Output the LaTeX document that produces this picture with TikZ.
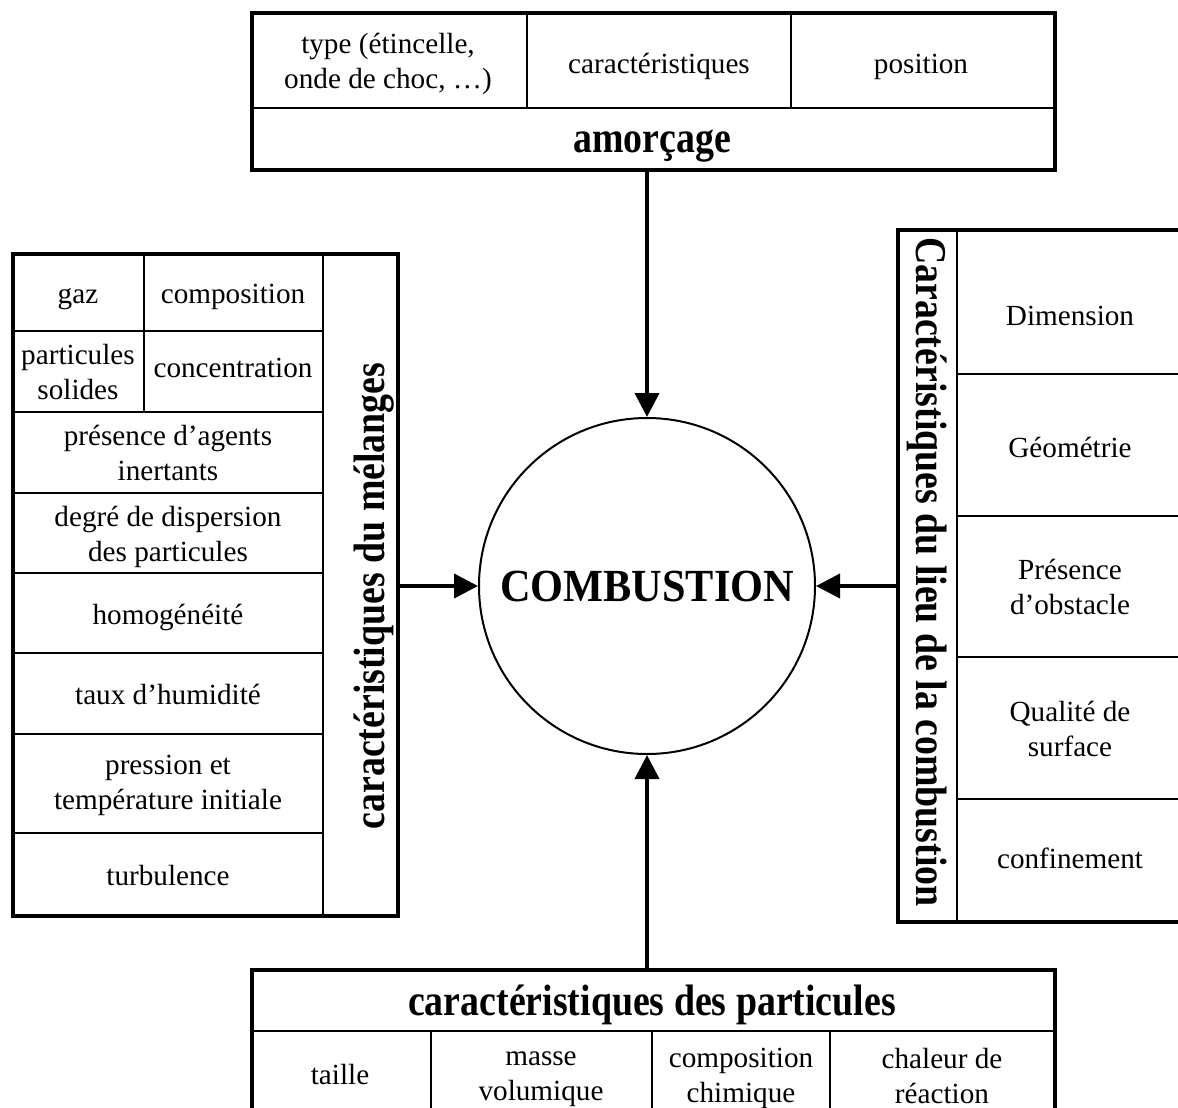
\documentclass[tikz,border=0pt]{standalone}
\usepackage{fontspec}
\setmainfont{Liberation Serif}
\newfontfamily\titlefont[FakeStretch=0.86]{Liberation Serif}
\newfontfamily\combfont[FakeStretch=0.92]{Liberation Serif}
\usetikzlibrary{arrows.meta,positioning}

\begin{document}
\begin{tikzpicture}[x=0.5pt,y=-0.5pt,
    frame/.style={draw, line width=2pt, inner sep=0pt, anchor=north west},
    grid/.style={line width=1pt},
    cell/.style={align=center, font=\fontsize{14.6}{17.5}\selectfont, yshift=-2pt,
        execute at begin node=\strut, execute at end node=\strut},
    title/.style={font=\titlefont\bfseries\fontsize{22}{26}\selectfont,
        execute at begin node=\strut},
    arr/.style={line width=2pt, -{Triangle[length=12pt,width=12pt]}}]
\useasboundingbox (0,0) rectangle (1178,1108);
\clip (0,0) rectangle (1178,1108);

% amorcage
\node[frame, minimum width=401.5pt, minimum height=78.5pt] (amorcage) at (250,11) {};
\draw[grid] (250,108) -- (1053,108) (527,11) -- (527,108) (791,11) -- (791,108);
\node[cell] (type) at (388,62) {type (étincelle,\\onde de choc, …)};
\node[cell] (carac) at (659,62) {caractéristiques};
\node[cell] (pos) at (921,62) {position};
\node[title] (amorce) at (652,142) {amorçage};

% combustion
\node[draw, circle, line width=1pt, minimum size=168pt, inner sep=0pt,
      font=\combfont\bfseries\fontsize{23}{27}\selectfont] (comb) at (647,586) {COMBUSTION};

% melanges
\node[frame, minimum width=192.5pt, minimum height=331pt] (melange) at (11,252) {};
\draw[grid] (323,252) -- (323,914) (144,252) -- (144,412);
\foreach \y in {331,412,493,573,653,734,833}
    \draw[grid] (11,\y) -- (323,\y);
\node[cell] (gaz) at (78,292) {gaz};
\node[cell] (compo) at (233,292) {composition};
\node[cell] (solide) at (78,373) {particules\\solides};
\node[cell] (concen) at (233,366) {concentration};
\node[cell] (inert) at (168,454) {présence d’agents\\inertants};
\node[cell] (disper) at (168,535) {degré de dispersion\\des particules};
\node[cell] (homog) at (168,613) {homogénéité};
\node[cell] (humid) at (168,693) {taux d’humidité};
\node[cell] (press) at (168,784) {pression et\\température initiale};
\node[cell] (turb) at (168,874) {turbulence};
\node[title, rotate=90] (melangelab) at (374,596) {caractéristiques du mélanges};

% lieu
\node[frame, minimum width=145pt, minimum height=346pt] (lieu) at (896,228) {};
\draw[grid] (957,228) -- (957,920);
\foreach \y in {374,516,657,799}
    \draw[grid] (957,\y) -- (1186,\y);
\node[cell] (dimen) at (1070,314) {Dimension};
\node[cell] (geom) at (1070,446) {Géométrie};
\node[cell] (obst) at (1070,588) {Présence\\d’obstacle};
\node[cell] (surf) at (1070,730) {Qualité de\\surface};
\node[cell] (confin) at (1070,857) {confinement};
\node[title, rotate=-90] (lieulab) at (927,572) {Caractéristiques du lieu de la combustion};

% particules
\node[frame, minimum width=401.5pt, minimum height=80pt] (partic) at (250,968) {};
\draw[grid] (250,1031) -- (1053,1031);
\foreach \x in {431,652,830}
    \draw[grid] (\x,1031) -- (\x,1130);
\node[title] (particlab) at (652,1005) {caractéristiques des particules};
\node[cell] (taille) at (340,1073) {taille};
\node[cell] (masse) at (541,1077) {masse\\volumique};
\node[cell] (chim) at (741,1077) {composition\\chimique};
\node[cell] (chal) at (942,1077) {chaleur de\\réaction};

% arrows
\draw[arr] (amorcage.south -| comb.north) -- (comb.north);
\draw[arr] (melange.east |- comb.west) -- (comb.west);
\draw[arr] (lieu.west |- comb.east) -- (comb.east);
\draw[arr] (partic.north -| comb.south) -- (comb.south);
\end{tikzpicture}
\end{document}
